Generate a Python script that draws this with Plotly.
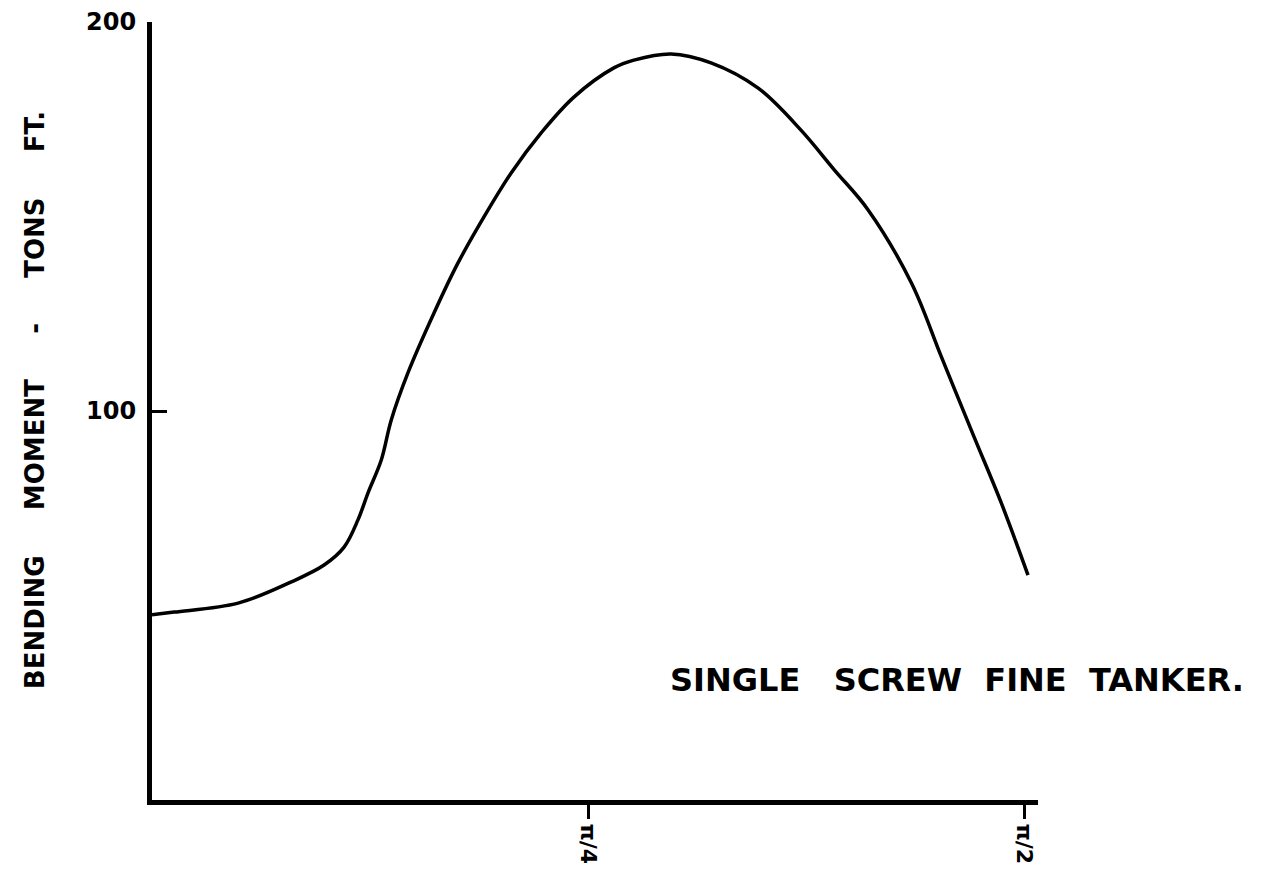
import plotly.graph_objects as go
import math

# Data (x in radians along the hull, y = bending moment, tons ft)
x_vals = [0.0, 0.040, 0.155, 0.250, 0.310, 0.346, 0.371, 0.389, 0.413, 0.431,
          0.461, 0.508, 0.551, 0.598, 0.647, 0.701, 0.760, 0.832, 0.868, 0.935,
          1.007, 1.092, 1.169, 1.229, 1.290, 1.368, 1.422, 1.481, 1.530, 1.578]
y_vals = [47.6, 48.3, 50.6, 56.0, 60.4, 65.0, 72.0, 78.9, 87.4, 97.7,
          109.8, 125.2, 138.0, 149.9, 161.2, 171.5, 180.7, 188.2, 190.2, 191.8,
          189.5, 183.0, 172.2, 162.0, 151.7, 132.9, 113.9, 93.3, 76.3, 57.8]

y_ticks = [100, 200]
y_tick_labels = ["100", "200"]
x_ticks = [math.pi / 4, math.pi / 2]
x_tick_labels = ["π/4", "π/2"]

title_y = "BENDING     MOMENT     -     TONS     FT."
note = "SINGLE   SCREW  FINE  TANKER."

font_main = "DejaVu Sans"

fig = go.Figure()
fig.add_trace(go.Scatter(
    x=x_vals, y=y_vals, mode="lines",
    line=dict(color="black", width=3.5, shape="spline", smoothing=1.0),
    hoverinfo="skip", showlegend=False,
))

fig.update_layout(
    width=1263, height=856,
    margin=dict(l=144, r=233, t=14, b=64),
    paper_bgcolor="white", plot_bgcolor="white",
    showlegend=False,
    xaxis=dict(
        range=[0, 1.596], showgrid=False, zeroline=False, automargin=False,
        showline=True, linecolor="black", linewidth=5,
        tickmode="array", tickvals=x_ticks, ticktext=x_tick_labels,
        ticks="outside", ticklen=14, tickwidth=3, tickcolor="black",
        tickangle=90, ticklabelstandoff=0,
        tickfont=dict(family=font_main, size=22, color="black", weight="bold"),
    ),
    yaxis=dict(
        range=[0, 200], showgrid=False, zeroline=False, automargin=False,
        showline=True, linecolor="black", linewidth=5,
        tickmode="array", tickvals=y_ticks, ticktext=y_tick_labels,
        ticks="inside", ticklen=15, tickwidth=3, tickcolor="black",
        ticklabelstandoff=6,
        tickfont=dict(family=font_main, size=24, color="black", weight="bold"),
    ),
    annotations=[
        dict(text=title_y, xref="paper", yref="paper", x=-0.132, y=0.514,
             xanchor="center", yanchor="middle", textangle=-90, showarrow=False,
             font=dict(family=font_main, size=26, color="black", weight="bold")),
        dict(text=note, xref="paper", yref="paper", x=0.5824, y=0.154,
             xanchor="left", yanchor="middle", showarrow=False,
             font=dict(family=font_main, size=32, color="black", weight="bold")),
    ],
)

fig.write_html("out.html")
